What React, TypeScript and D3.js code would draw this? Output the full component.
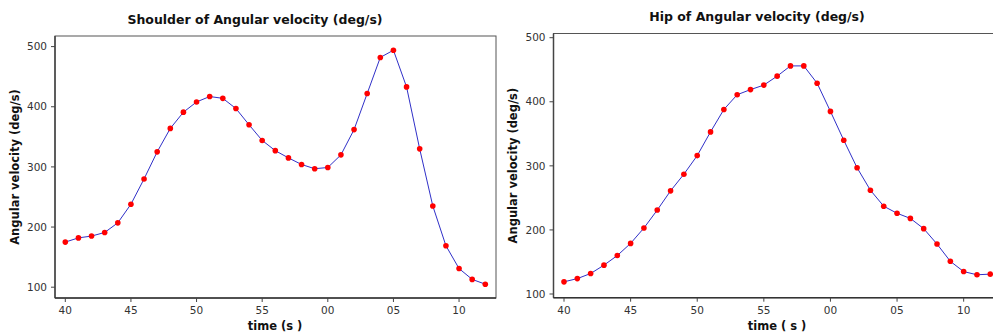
import React from "react";
import * as d3 from "d3";

// seconds 40..72 (labels wrap at 60)
const seconds = d3.range(40, 73);

const shoulderValues = [
  175, 182, 185, 191, 207, 238, 280, 325, 364, 391, 408, 417, 414, 397, 370,
  344, 327, 315, 304, 297, 299, 320, 362, 422, 482, 494, 433, 330, 235, 169,
  131, 113, 105,
];

const hipValues = [
  119, 124, 132, 145, 160, 179, 203, 231, 261, 287, 316, 353, 388, 411, 419,
  426, 440, 456, 456, 429, 385, 340, 297, 262, 237, 226, 218, 202, 178, 151,
  135, 130, 131,
];

const xTicks = [40, 45, 50, 55, 60, 65, 70];
const yTicks = [100, 200, 300, 400, 500];

const FONT = "'DejaVu Sans', Verdana, sans-serif";

interface PanelProps {
  title: string;
  xLabel: string;
  values: number[];
  frame: { left: number; top: number; right: number; bottom: number };
  xRange: [number, number];
  yRange: [number, number];
  titleX: number;
  titleY: number;
  xLabelX: number;
  yLabelX: number;
}

const Panel: React.FC<PanelProps> = ({
  title,
  xLabel,
  values,
  frame,
  xRange,
  yRange,
  titleX,
  titleY,
  xLabelX,
  yLabelX,
}) => {
  const x = d3.scaleLinear().domain([40, 72]).range(xRange);
  const y = d3.scaleLinear().domain([100, 500]).range(yRange);
  const data = seconds.map((s, i) => ({ s, v: values[i] }));
  const line = d3
    .line<{ s: number; v: number }>()
    .x((d) => x(d.s))
    .y((d) => y(d.v));

  const plotMid = (frame.top + frame.bottom) / 2;

  return (
    <g fontFamily={FONT}>
      <text
        x={titleX}
        y={titleY}
        textAnchor="middle"
        fontSize={12.5}
        fontWeight="bold"
        fill="#111"
      >
        {title}
      </text>

      {/* frame */}
      <rect
        x={frame.left}
        y={frame.top}
        width={frame.right - frame.left}
        height={frame.bottom - frame.top}
        fill="white"
        stroke="#555"
        strokeWidth={1}
      />
      <line
        x1={frame.left}
        x2={frame.left}
        y1={frame.top}
        y2={frame.bottom}
        stroke="#444"
        strokeWidth={1.5}
      />
      <line
        x1={frame.left}
        x2={frame.right}
        y1={frame.bottom}
        y2={frame.bottom}
        stroke="#333"
        strokeWidth={1.5}
      />

      {/* y axis */}
      {yTicks.map((t) => (
        <g key={t}>
          <line
            x1={frame.left - 4}
            x2={frame.left}
            y1={y(t)}
            y2={y(t)}
            stroke="#444"
          />
          <text
            x={frame.left - 8}
            y={y(t)}
            dy="0.35em"
            textAnchor="end"
            fontSize={10.5}
            fill="#333"
          >
            {t}
          </text>
        </g>
      ))}

      {/* x axis */}
      {xTicks.map((t) => (
        <g key={t}>
          <line
            x1={x(t)}
            x2={x(t)}
            y1={frame.bottom}
            y2={frame.bottom + 4}
            stroke="#444"
          />
          <text
            x={x(t)}
            y={314}
            textAnchor="middle"
            fontSize={10.5}
            fill="#333"
          >
            {String(t % 60).padStart(2, "0")}
          </text>
        </g>
      ))}

      <text
        x={xLabelX}
        y={330}
        textAnchor="middle"
        fontSize={11.5}
        fontWeight="bold"
        fill="#111"
      >
        {xLabel}
      </text>
      <text
        transform={`translate(${yLabelX},${plotMid}) rotate(-90)`}
        textAnchor="middle"
        dy="0.35em"
        fontSize={11.5}
        fontWeight="bold"
        fill="#111"
      >
        Angular velocity (deg/s)
      </text>

      <path d={line(data) || ""} fill="none" stroke="#3030c8" strokeWidth={1} />
      {data.map((d) => (
        <circle key={d.s} cx={x(d.s)} cy={y(d.v)} r={2.8} fill="#ff0000" />
      ))}
    </g>
  );
};

export default function App() {
  return (
    <div
      style={{
        position: "absolute",
        left: 0,
        top: 0,
        width: 993,
        height: 335,
        overflow: "hidden",
        background: "white",
      }}
    >
      <svg width={993} height={335}>
        <Panel
          title="Shoulder of Angular velocity (deg/s)"
          xLabel="time (s )"
          values={shoulderValues}
          frame={{ left: 55, top: 36, right: 496, bottom: 298 }}
          xRange={[65.3, 485.3]}
          yRange={[287.2, 46.6]}
          titleX={255}
          titleY={24}
          xLabelX={275}
          yLabelX={15}
        />
        <Panel
          title="Hip of Angular velocity (deg/s)"
          xLabel="time ( s )"
          values={hipValues}
          frame={{ left: 553.5, top: 33.5, right: 1010, bottom: 297.7 }}
          xRange={[564, 990.3]}
          yRange={[294, 37.7]}
          titleX={757}
          titleY={20.5}
          xLabelX={777}
          yLabelX={513}
        />
      </svg>
    </div>
  );
}
